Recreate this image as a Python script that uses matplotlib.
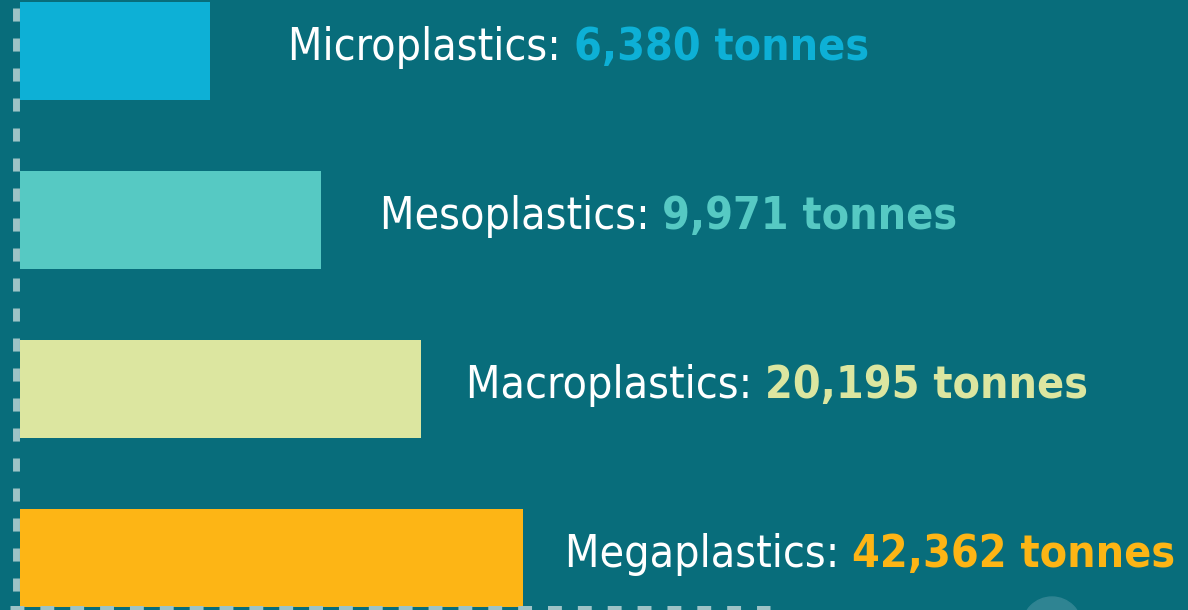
import numpy as np
import matplotlib.pyplot as plt
from matplotlib.patches import Circle

# Data read from the infographic
categories = ["Microplastics", "Mesoplastics", "Macroplastics", "Megaplastics"]
tonnes = [6380, 9971, 20195, 42362]
# the infographic does not draw bars to scale; lengths
bar_lengths = [190, 301, 401, 503]
colors = ["#0db0d6", "#56c9c3", "#dce6a0", "#fdb515"]

bg = "#086d7b"
dash_col = "#9dc3c6"
plt.rcParams['lines.scale_dashes'] = False
plt.rcParams['font.family'] = ['DejaVu Sans']

fig = plt.figure(figsize=(11.88, 6.10), dpi=100, facecolor=bg)
ax = fig.add_axes([0, 0, 1, 1])
ax.set_facecolor(bg)

ypos = np.arange(len(categories))
ax.barh(ypos, bar_lengths, height=0.575, color=colors, left=0)

# 1 x-unit = 1 pixel, bars start 20 px from the left
ax.set_xlim(-20, 1168)
ax.set_ylim(3.308, -0.302)
ax.axis('off')

# faint decorative circle peeking in at the bottom right
fig.patches.append(Circle((1052, -17), 30, transform=None, color="#2f8492", zorder=0))

# dashed left axis and bottom axis
ax.plot([-4, -4], [1 - 8 / 610, 0], transform=ax.get_xaxis_transform(), color=dash_col,
        lw=5, dashes=(9.4, 12.2), solid_capstyle='butt', clip_on=False)
ax.plot([-10, 750], [0.0033, 0.0033], transform=ax.get_xaxis_transform(), color=dash_col,
        lw=3.6, dashes=(10, 11.5), solid_capstyle='butt', clip_on=False)

# labels: name in white, amount in bar colour
gaps = [78, 59, 45, 42]
for i, (name, t, L, c) in enumerate(zip(categories, tonnes, bar_lengths, colors)):
    txt = ax.text(L + gaps[i], ypos[i] - 0.02, name + ": ", color="white",
                  fontsize=32, va='center', ha='left', fontstretch='condensed')
    ax.annotate(f"{t:,} tonnes", xy=(1, 0), xycoords=txt, va='bottom', ha='left',
                color=c, fontsize=32, fontweight='bold', fontstretch='condensed')

fig.savefig("out.png", dpi=100, facecolor=bg)
